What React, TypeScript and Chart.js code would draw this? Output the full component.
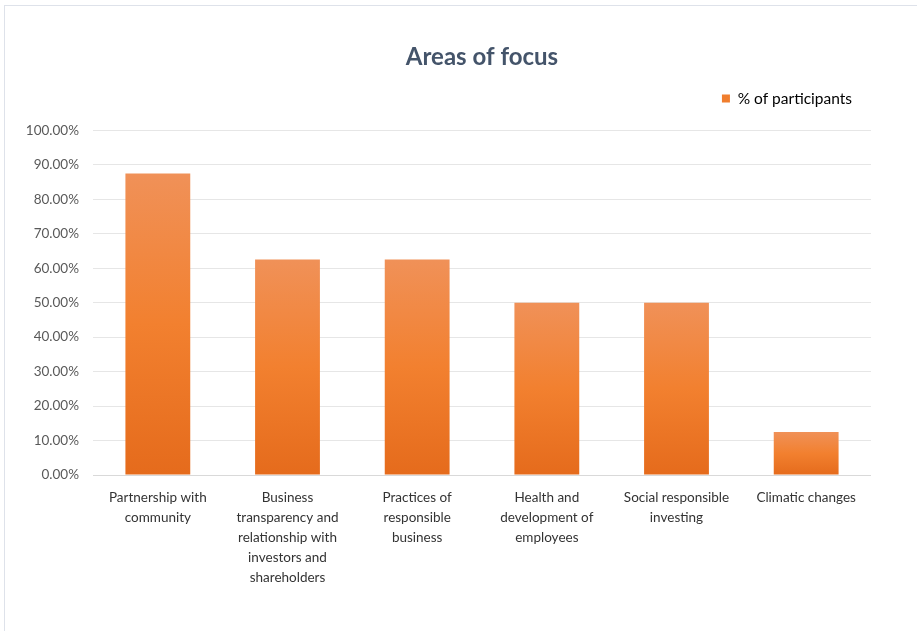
import React, { useEffect, useRef } from "react";
import { Chart, registerables } from "chart.js";

Chart.register(...registerables);

const categories: string[][] = [
  ["Partnership with", "community"],
  ["Business", "transparency and", "relationship with", "investors and", "shareholders"],
  ["Practices of", "responsible", "business"],
  ["Health and", "development of", "employees"],
  ["Social responsible", "investing"],
  ["Climatic changes"],
];
const seriesLabel = "% of participants";
const participants: number[] = [87.5, 62.5, 62.5, 50, 50, 12.5];
const yTicksMin = 0;
const yTicksMax = 100;
const yTicksStep = 10;

const FONT = "Lato, 'Open Sans', sans-serif";

export default function App() {
  const ref = useRef<HTMLCanvasElement | null>(null);

  useEffect(() => {
    document.body.style.margin = "0";
    const canvas = ref.current;
    if (!canvas) return;
    const chart = new Chart(canvas, {
      type: "bar",
      data: {
        labels: categories,
        datasets: [
          {
            label: seriesLabel,
            data: participants,
            backgroundColor: (ctx: any) => {
              const c = ctx.chart;
              if (!c.chartArea || ctx.type !== "data") return "#F07E2E";
              const ys = c.scales.y;
              const top = ys.getPixelForValue(ctx.raw as number);
              const bottom = ys.getPixelForValue(0);
              if (!isFinite(top) || !isFinite(bottom) || top === bottom) return "#F07E2E";
              const g = c.ctx.createLinearGradient(0, top, 0, bottom);
              g.addColorStop(0, "#F09158");
              g.addColorStop(0.5, "#F2802F");
              g.addColorStop(1, "#E56B1C");
              return g;
            },
            borderWidth: 0,
            categoryPercentage: 1,
            barPercentage: 0.5,
          },
        ],
      },
      options: {
        animation: false,
        responsive: false,
        maintainAspectRatio: false,
        layout: { padding: { left: 0, right: 46, top: 0, bottom: 0 } },
        plugins: {
          title: {
            display: true,
            text: "Areas of focus",
            fullSize: false,
            color: "#44546A",
            font: { family: FONT, size: 24, weight: "bold" },
            padding: { top: 43, bottom: 0 },
          },
          legend: {
            display: true,
            position: "top",
            align: "end",
            fullSize: false,
            labels: {
              boxWidth: 8,
              boxHeight: 8,
              padding: 19,
              color: "#404040",
              font: { family: FONT, size: 15.5 },
              generateLabels: () => [
                {
                  text: seriesLabel,
                  fillStyle: "#F07E2E",
                  strokeStyle: "#F07E2E",
                  lineWidth: 0,
                  datasetIndex: 0,
                },
              ],
            },
          },
          tooltip: { enabled: false },
        },
        scales: {
          spacer: {
            type: "category",
            position: "top",
            display: true,
            grid: { display: false },
            border: { display: false },
            ticks: { display: false },
            afterFit: (scale: any) => {
              scale.height = 14;
            },
          },
          x: {
            grid: { display: false },
            border: { display: false },
            ticks: {
              autoSkip: false,
              maxRotation: 0,
              minRotation: 0,
              color: "#333333",
              font: { family: FONT, size: 13.5, lineHeight: 1.48 },
              padding: 5,
            },
            afterFit: (scale: any) => {
              scale.height = 156;
            },
          },
          y: {
            min: yTicksMin,
            max: yTicksMax,
            border: { display: false },
            grid: {
              color: (ctx: any) => (ctx.tick && ctx.tick.value === 0 ? "#D9D9D9" : "#E6E6E6"),
              lineWidth: 1,
              drawTicks: false,
            },
            ticks: {
              stepSize: yTicksStep,
              padding: 14,
              color: "#595959",
              font: { family: FONT, size: 13.5 },
              callback: (v: any) => Number(v).toFixed(2) + "%",
            },
            afterFit: (scale: any) => {
              scale.width = 93;
            },
          },
        },
      },
    });
    return () => chart.destroy();
  }, []);

  return (
    <div style={{ position: "relative", width: 917, height: 631, overflow: "hidden", background: "#fff" }}>
      <div
        style={{
          position: "absolute",
          left: 4,
          top: 5,
          width: 1200,
          height: 1200,
          border: "1px solid #DEE2EA",
          boxSizing: "border-box",
        }}
      />
      <canvas ref={ref} width={917} height={631} style={{ position: "absolute", left: 0, top: 0, width: 917, height: 631 }} />
    </div>
  );
}
